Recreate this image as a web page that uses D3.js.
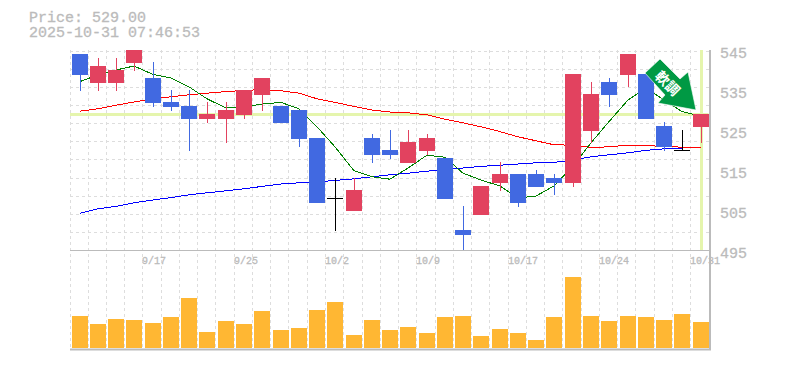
<!DOCTYPE html>
<html>
<head>
<meta charset="utf-8">
<script src="https://cdn.jsdelivr.net/npm/d3@7"></script>
<style>
html, body { margin: 0; background: #fff; }
svg { display: block; }
text { fill: #bbb; stroke: #bbb; stroke-width: 0.3; font-family: "Liberation Mono", monospace; }
</style>
</head>
<body>
<svg width="785" height="370"></svg>
<script>
var price = 529;
var stamp = "2025-10-31 07:46:53";
var dates = ["9/11","9/12","9/15","9/16","9/17","9/18","9/19","9/22","9/24","9/25","9/26","9/29","9/30","10/1","10/2","10/3","10/6","10/7","10/8","10/9","10/10","10/14","10/15","10/16","10/17","10/20","10/21","10/22","10/23","10/24","10/27","10/28","10/29","10/30","10/31"];
var dateTicks = ["9/17","9/25","10/2","10/9","10/17","10/24","10/31"];
var priceTicks = [545, 535, 525, 515, 505, 495];

var opens = [544,537,537,542,538,532,531,528,528,529,534,531,530,523,508,505,523,520,517,520,518,500,504,512,514,514,513,512,525,537,539,539,526,520,526];
var closes = [539,541,540,545,532,531,528,529,530,535,538,527,523,507,508,510,519,519,522,523,508,499,511,514,507,511,512,539,534,534,544,528,521,520,529];
var highs = [544,543,543,545,542,535,535,532,532,535,538,531,530,523,513,513,524,525,525,524,518,506,511,517,514,515,514,539,537,538,544,539,527,525,529];
var lows = [535,535,535,540,531,530,520,527,522,528,530,527,521,507,500,505,517,518,517,519,508,495,504,510,506,511,509,511,522,531,536,528,520,520,522];
var volume = [32,24,29,28,25,31,50,16,27,24,37,18,20,38,46,13,28,18,21,15,31,32,12,19,15,8,31,71,32,27,32,31,28,34,26];

var ma5 = [537.1,538.8,540,541,538.9,538,535.8,532.8,530.5,530.8,531.5,531.9,530.3,525.8,520.8,514.8,513.3,512.7,515.5,518.7,518.2,514.2,512.5,511,508,508.5,511,516,521.8,527.1,532.5,535.5,532.5,529.6,528.5];
var ma25 = [529.7,530.3,531.2,532,532.8,533.3,533.8,534.2,534.6,534.9,535.1,534.8,534.2,532.8,531.9,530.9,530,529.5,529.3,528.8,527.7,526.8,525.8,524.6,523.3,522.3,521.3,521.2,520.6,520.8,521.2,521.1,520.9,520.7,520.6];
var ma75 = [504.2,505.3,505.9,506.8,507.5,508.1,508.8,509.3,509.8,510.3,510.9,511.5,511.8,512,512.4,512.8,513.3,513.8,514.2,514.7,515.1,515.5,515.9,516.2,516.5,516.8,516.9,517.5,518.3,518.8,519.3,519.9,520.3,520.5,520.7];

var svg = d3.select("svg");
var plotLeft = 69.3, plotRight = 708.5, plotTop = 50, plotMid = 250, plotBottom = 349;

var x = d3.scaleBand().domain(d3.range(dates.length)).range([plotLeft, plotRight]).paddingInner(0.12).paddingOuter(0.06);
var barLeft = function (i) { return Math.round(x(i) + 1.25); };
var center = function (i) { return barLeft(i) + 8; };
var y = d3.scaleLinear().domain([495, 545]).range([plotMid, plotTop]);
var yVol = d3.scaleLinear().domain([0, d3.max(volume)]).range([348, 277]);
var yGrid = d3.scaleLinear().domain([0, 11]).range([plotMid, plotTop + 0.7]);
var gridX = function (i) { return Math.max(70, Math.round(x(i) - 1.1)) + 0.5; };

// grid
var grid = svg.append("g").attr("stroke", "#ddd").attr("stroke-dasharray", "3,3").attr("shape-rendering", "crispEdges");
grid.selectAll(".v").data(d3.range(dates.length)).enter().append("line")
    .attr("class", "v")
    .attr("x1", gridX).attr("x2", gridX)
    .attr("y1", plotTop).attr("y2", plotBottom);
grid.selectAll(".h").data(d3.range(1, 12)).enter().append("line")
    .attr("class", "h")
    .attr("x1", 70).attr("x2", plotRight)
    .attr("y1", function (i) { return Math.round(yGrid(i)) + 0.5; })
    .attr("y2", function (i) { return Math.round(yGrid(i)) + 0.5; });

// current price guides
svg.append("line").attr("x1", 70).attr("x2", plotRight).attr("y1", y(price) + 0.5).attr("y2", y(price) + 0.5)
    .attr("stroke", "#e5f5ad").attr("stroke-width", 3);
svg.append("line").attr("x1", center(34) + 0.5).attr("x2", center(34) + 0.5).attr("y1", plotTop).attr("y2", plotMid)
    .attr("stroke", "#e5f5ad").attr("stroke-width", 3);

// moving averages
var line = d3.line().x(function (d, i) { return center(i); }).y(function (d) { return y(d); });
[[ma75, "#0000ff"], [ma25, "#ff0000"], [ma5, "#008000"]].forEach(function (m) {
    svg.append("path").attr("d", line(m[0])).attr("fill", "none").attr("stroke", m[1])
        .attr("shape-rendering", "crispEdges");
});

// candles
function candleColor(i) {
    if (opens[i] == closes[i]) return "#000";
    return closes[i] > opens[i] ? "#e2425f" : "#4169e1";
}
svg.selectAll(".wick").data(d3.range(dates.length)).enter().append("rect")
    .attr("class", "wick")
    .attr("x", function (i) { return center(i); })
    .attr("width", 1)
    .attr("y", function (i) { return y(highs[i]); })
    .attr("height", function (i) { return y(lows[i]) - y(highs[i]) + 1; })
    .attr("fill", candleColor);
svg.selectAll(".body").data(d3.range(dates.length)).enter().append("rect")
    .attr("class", "body")
    .attr("x", function (i) { return barLeft(i); })
    .attr("width", 16)
    .attr("y", function (i) { return y(Math.max(opens[i], closes[i])); })
    .attr("height", function (i) { return Math.abs(y(opens[i]) - y(closes[i])) + 1; })
    .attr("fill", candleColor);

// volume
svg.selectAll(".vol").data(d3.range(dates.length)).enter().append("rect")
    .attr("class", "vol")
    .attr("x", function (i) { return barLeft(i); })
    .attr("width", 16)
    .attr("y", function (i) { return yVol(volume[i]); })
    .attr("height", function (i) { return yVol(0) - yVol(volume[i]); })
    .attr("fill", "#ffb733");

// frame
svg.append("path").attr("d", d3.line()([[70, plotMid + 0.5], [plotRight + 1.5, plotMid + 0.5]])).attr("stroke", "#bbb").attr("fill", "none");
svg.append("path").attr("d", d3.line()([[70, plotBottom + 0.5], [plotRight + 1.5, plotBottom + 0.5], [plotRight + 1.5, plotTop]]))
    .attr("stroke", "#bbb").attr("stroke-width", 2).attr("fill", "none");

// arrow
var arrow = svg.append("g");
arrow.append("polygon").attr("points", "660,59 645,73 665,95 658,103 696,110 688,72 680,79")
    .attr("fill", "#009944").attr("stroke", "#fff").attr("stroke-opacity", 0.6);
arrow.append("text").attr("transform", "translate(664,87) rotate(45)").attr("text-anchor", "middle")
    .style("fill", "#fff").style("stroke", "none").style("font-family", "'Noto Sans CJK JP'").style("font-size", "14px").style("font-weight", "bold")
    .text("軟調");

// text
svg.append("text").attr("x", 29).attr("y", 22).style("font-size", "15px").text("Price: " + price.toFixed(2));
svg.append("text").attr("x", 29).attr("y", 37).style("font-size", "15px").text(stamp);
svg.selectAll(".pt").data(priceTicks).enter().append("text")
    .attr("class", "pt")
    .attr("x", 720).attr("y", function (d) { return y(d) + 8; })
    .style("font-size", "15px").text(function (d) { return d; });
svg.selectAll(".dt").data(dateTicks).enter().append("text")
    .attr("class", "dt")
    .attr("x", function (d) { return gridX(dates.indexOf(d)) - 0.5; }).attr("y", 264)
    .style("font-size", "10px").text(function (d) { return d; });
</script>
</body>
</html>
